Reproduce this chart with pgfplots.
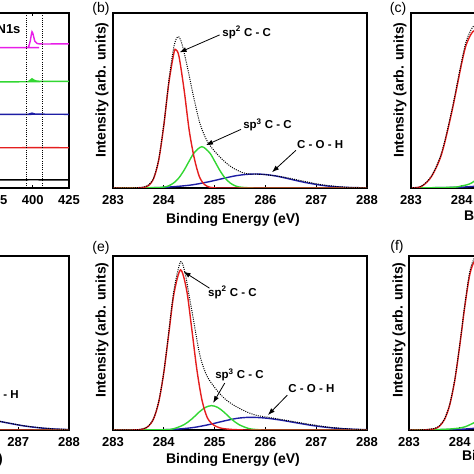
\documentclass[border=0pt]{standalone}
\usepackage{fontspec}
\setmainfont{Liberation Sans}
\usepackage{pgfplots}
\pgfplotsset{compat=1.18}
\usetikzlibrary{arrows.meta}
\definecolor{cred}{RGB}{228,30,30}
\definecolor{cgreen}{RGB}{50,215,50}
\definecolor{cblue}{RGB}{30,30,165}
\definecolor{cmag}{RGB}{232,30,232}
\newcommand\fs[1]{\fontsize{#1}{#1}\selectfont}
\tikzset{
  arr/.style={-{Latex[length=7pt,width=5pt]}, line width=0.8pt, black},
  ann/.style={font=\bfseries\fs{11.5}, anchor=west, inner sep=0pt},
}
\pgfplotsset{
  basepanel/.style={scale only axis, width=254pt, height=175pt, ymin=0, ymax=1,
    ytick=\empty, axis line style={line width=1.2pt},
    tick align=inside, xtick pos=bottom, major tick length=3pt,
    tick style={black, line width=0.8pt},
    /pgf/number format/assume math mode=true,
    /pgf/number format/1000 sep={},
    xticklabel style={font=\bfseries\fs{13}, yshift=-4pt}},
  xpspanel/.style={basepanel, xmin=283, xmax=288, xtick={283,...,288}},
  rl/.style={cred, line width=1.4pt, smooth},
  gl/.style={cgreen, line width=1.4pt, smooth},
  bl/.style={cblue, line width=1.4pt, smooth},
  dl/.style={black, line width=1pt, dash pattern=on 1pt off 1.2pt, smooth},
}
\begin{document}
\begin{tikzpicture}
\useasboundingbox (0pt,0pt) rectangle (474pt,474pt);
\clip (0pt,0pt) rectangle (474pt,474pt);
% ---------------- (a) ----------------
\begin{axis}[basepanel, at={(-185pt,286pt)}, anchor=south west,
  xmin=250, xmax=425, xtick={250,275,...,425}, xtick pos=both]
\addplot[black, line width=1.4pt] coordinates {(250,0.046) (380,0.046) (400,0.047) (425,0.046)};
\addplot[cred, line width=1.4pt] coordinates {(250,0.230) (390,0.230) (400,0.231) (425,0.230)};
\addplot[cblue, line width=1.4pt, smooth] coordinates {(250,0.421) (395,0.421) (398,0.424) (399.5,0.428) (401,0.424) (404,0.422) (425,0.421)};
\addplot[cgreen, line width=1.4pt, smooth] coordinates {(250,0.607) (396,0.607) (398,0.614) (399.5,0.624) (401,0.616) (403,0.610) (406,0.609) (425,0.609)};
\addplot[cmag, line width=1.4pt, smooth] coordinates {(250,0.802) (395,0.802) (397,0.805) (398.3,0.84) (399.5,0.893) (400.5,0.87) (401.5,0.838) (403,0.826) (407,0.823) (425,0.824)};
\addplot[black, line width=0.9pt, dash pattern=on 1pt off 1.2pt] coordinates {(396,0) (396,1)};
\addplot[black, line width=0.9pt, dash pattern=on 1pt off 1.2pt] coordinates {(407,0) (407,1)};
\end{axis}
% ---------------- (b) ----------------
\begin{axis}[xpspanel, at={(113pt,286pt)}, anchor=south west]
\addplot[bl] coordinates {(283.0,0) (283.5,0.0005) (284.0,0.0035) (284.5,0.0157) (284.8,0.0305) (285.0,0.043) (285.2,0.0566) (285.4,0.069) (285.6,0.077) (285.8,0.08) (286.0,0.077) (286.2,0.069) (286.4,0.0566) (286.6,0.043) (286.8,0.0305) (287.1,0.0157) (287.3,0.0091) (287.6,0.0035) (288.0,0.0008)};
\addplot[gl] coordinates {(283.0,0) (283.8,0.002) (284.0,0.005) (284.1,0.013) (284.2,0.030) (284.3,0.059) (284.4,0.102) (284.5,0.154) (284.6,0.202) (284.75,0.236) (284.9,0.202) (285.0,0.154) (285.1,0.102) (285.2,0.059) (285.3,0.030) (285.4,0.013) (285.5,0.005) (285.7,0.001) (286,0) (288,0)};
\addplot[rl] coordinates {(283.0,0) (283.4,0.0001) (283.5,0.0004) (283.6,0.0027) (283.7,0.014) (283.8,0.054) (283.9,0.159) (284.0,0.356) (284.1,0.602) (284.2,0.773) (284.24,0.79) (284.3,0.751) (284.4,0.56) (284.5,0.33) (284.6,0.17) (284.7,0.065) (284.8,0.02) (284.9,0.005) (285.0,0.001) (285.2,0) (288,0)};
\addplot[dl] coordinates {(283.0,0) (283.4,0.001) (283.5,0.003) (283.6,0.006) (283.7,0.018) (283.8,0.058) (283.9,0.165) (284.0,0.365) (284.1,0.615) (284.2,0.81) (284.28,0.865) (284.35,0.83) (284.45,0.71) (284.58,0.53) (284.71,0.37) (284.85,0.27) (285.0,0.21) (285.2,0.15) (285.37,0.113) (285.55,0.088) (285.7,0.079) (285.85,0.079) (286.0,0.076) (286.2,0.069) (286.4,0.060) (286.6,0.048) (286.8,0.036) (287.0,0.024) (287.2,0.015) (287.4,0.009) (287.6,0.004) (287.8,0.002) (288,0.001)};
\draw[arr] (axis cs:285.1,0.875) -- (axis cs:284.31,0.775);
\node[ann] at (axis cs:285.15,0.89) {sp\textsuperscript{2} C - C};
\draw[arr] (axis cs:285.52,0.335) -- (axis cs:284.83,0.245);
\node[ann] at (axis cs:285.56,0.36) {sp\textsuperscript{3} C - C};
\draw[arr] (axis cs:286.6,0.215) -- (axis cs:286.13,0.09);
\node[ann] at (axis cs:286.62,0.246) {C - O - H};
\end{axis}
% ---------------- (c) ----------------
\begin{axis}[xpspanel, at={(411pt,286pt)}, anchor=south west]
\addplot[bl] coordinates {(283,0) (284,0.005) (284.6,0.02) (285.2,0.05) (285.8,0.07) (286.4,0.05) (287,0.02) (287.6,0.005) (288,0.001)};
\addplot[gl] coordinates {(283,0) (283.8,0.004) (284.0,0.012) (284.2,0.03) (284.5,0.1) (284.8,0.15) (285.1,0.1) (285.4,0.03) (285.7,0.005) (286,0) (288,0)};
\addplot[rl] coordinates {(283.0,0.001) (283.2,0.008) (283.4,0.064) (283.6,0.192) (283.8,0.43) (284.0,0.716) (284.1,0.829) (284.25,0.9) (284.4,0.829) (284.5,0.716) (284.7,0.43) (284.9,0.192) (285.1,0.064) (285.3,0.016) (285.6,0.002) (288,0)};
\addplot[dl] coordinates {(283.0,0.002) (283.2,0.01) (283.4,0.068) (283.6,0.2) (283.8,0.44) (284.0,0.73) (284.1,0.85) (284.25,0.93) (284.4,0.88) (284.6,0.65) (284.8,0.42) (285.0,0.25) (285.4,0.12) (285.8,0.08) (286.2,0.065) (286.8,0.035) (287.4,0.01) (288,0.002)};
\end{axis}
% ---------------- (d) ----------------
\begin{axis}[xpspanel, at={(-185pt,44pt)}, anchor=south west, height=174pt]
\addplot[bl] coordinates {(283,0) (284,0.004) (284.6,0.02) (285.2,0.055) (285.6,0.07) (285.9,0.075) (286.2,0.070) (286.5,0.057) (286.8,0.040) (287.1,0.024) (287.4,0.013) (287.7,0.006) (288.0,0.0024)};
\addplot[gl] coordinates {(283,0) (284.4,0.03) (284.8,0.12) (285.2,0.03) (285.6,0) (288,0)};
\addplot[rl] coordinates {(283,0) (283.6,0.01) (283.9,0.2) (284.1,0.6) (284.3,0.9) (284.5,0.6) (284.7,0.2) (285,0.02) (285.3,0) (288,0)};
\addplot[dl] coordinates {(283,0) (283.6,0.012) (283.9,0.21) (284.1,0.62) (284.3,0.95) (284.5,0.68) (284.7,0.42) (285,0.24) (285.4,0.13) (285.8,0.085) (286.1,0.074) (286.4,0.062) (286.8,0.041) (287.1,0.025) (287.4,0.014) (287.7,0.0065) (288,0.003)};
\draw[arr] (axis cs:286.08,0.19) -- (axis cs:285.75,0.085);
\node[ann] at (axis cs:286.1,0.205) {C - O - H};
\end{axis}
% ---------------- (e) ----------------
\begin{axis}[xpspanel, at={(113pt,44pt)}, anchor=south west, height=174pt]
\addplot[bl] coordinates {(283.0,0) (283.5,0.0001) (284.0,0.0017) (284.3,0.0057) (284.6,0.0151) (284.9,0.0318) (285.2,0.0527) (285.45,0.0673) (285.7,0.073) (286.0,0.0686) (286.3,0.0569) (286.6,0.0417) (286.9,0.0269) (287.2,0.0154) (287.5,0.0078) (287.8,0.0035) (288.0,0.0019)};
\addplot[gl] coordinates {(283.0,0) (284.0,0.0014) (284.2,0.008) (284.4,0.031) (284.55,0.063) (284.7,0.104) (284.82,0.130) (284.94,0.14) (285.06,0.130) (285.18,0.104) (285.33,0.063) (285.48,0.031) (285.68,0.008) (285.88,0.0014) (286.1,0) (288,0)};
\addplot[rl] coordinates {(283.0,0) (283.4,0.0003) (283.5,0.0014) (283.6,0.006) (283.7,0.022) (283.8,0.065) (283.9,0.160) (284.0,0.329) (284.1,0.558) (284.2,0.784) (284.33,0.92) (284.45,0.803) (284.55,0.582) (284.65,0.349) (284.75,0.174) (284.85,0.075) (284.95,0.035) (285.05,0.018) (285.15,0.009) (285.3,0.004) (285.5,0.001) (285.8,0) (288,0)};
\addplot[dl] coordinates {(283.0,0) (283.4,0.001) (283.5,0.003) (283.6,0.008) (283.7,0.024) (283.8,0.068) (283.9,0.165) (284.0,0.335) (284.1,0.57) (284.2,0.805) (284.33,0.967) (284.42,0.90) (284.5,0.77) (284.58,0.64) (284.71,0.43) (284.85,0.31) (285.04,0.23) (285.2,0.18) (285.37,0.144) (285.55,0.115) (285.7,0.096) (285.85,0.082) (286.03,0.074) (286.3,0.061) (286.6,0.046) (286.9,0.031) (287.2,0.018) (287.5,0.009) (287.8,0.004) (288.0,0.002)};
\draw[arr] (axis cs:284.9,0.815) -- (axis cs:284.39,0.91);
\node[ann] at (axis cs:284.87,0.79) {sp\textsuperscript{2} C - C};
\draw[arr] (axis cs:285.2,0.27) -- (axis cs:284.97,0.155);
\node[ann] at (axis cs:285.01,0.316) {sp\textsuperscript{3} C - C};
\draw[arr] (axis cs:286.43,0.2) -- (axis cs:286.05,0.086);
\node[ann] at (axis cs:286.45,0.241) {C - O - H};
\end{axis}
% ---------------- (f) ----------------
\begin{axis}[xpspanel, at={(409pt,44pt)}, anchor=south west, height=174pt]
\addplot[bl] coordinates {(283,0) (284,0.004) (284.6,0.02) (285.2,0.05) (285.8,0.07) (286.4,0.055) (287,0.025) (287.6,0.006) (288,0.002)};
\addplot[gl] coordinates {(283,0) (283.6,0.003) (283.9,0.008) (284.1,0.018) (284.4,0.06) (284.8,0.13) (285.0,0.14) (285.2,0.13) (285.6,0.06) (286,0.01) (286.3,0) (288,0)};
\addplot[rl] coordinates {(283.0,0) (283.3,0.0004) (283.5,0.007) (283.6,0.022) (283.7,0.061) (283.8,0.142) (283.9,0.283) (284.0,0.487) (284.1,0.713) (284.2,0.898) (284.3,0.97) (284.4,0.898) (284.5,0.713) (284.6,0.487) (284.7,0.283) (284.8,0.142) (284.9,0.061) (285.0,0.022) (285.2,0.002) (285.5,0) (288,0)};
\addplot[dl] coordinates {(283.0,0.001) (283.3,0.002) (283.5,0.009) (283.6,0.025) (283.7,0.065) (283.8,0.147) (283.9,0.29) (284.0,0.495) (284.1,0.725) (284.2,0.915) (284.3,0.99) (284.4,0.93) (284.5,0.78) (284.6,0.6) (284.8,0.38) (285.0,0.24) (285.3,0.15) (285.7,0.1) (286.0,0.08) (286.5,0.055) (287,0.03) (287.5,0.01) (288,0.003)};
\end{axis}
% ---------------- labels ----------------
\node[font=\bfseries\fs{13}, anchor=east] at (24pt,445pt) {N1s};
\node[font=\fs{14}] at (101pt,465pt) {(b)};
\node[font=\fs{14}] at (398pt,465pt) {(c)};
\node[font=\fs{14}] at (101pt,226pt) {(e)};
\node[font=\fs{14}] at (397pt,227pt) {(f)};
\node[font=\bfseries\fs{14}, rotate=90] at (102pt,384pt) {Intensity (arb. units)};
\node[font=\bfseries\fs{14}, rotate=90] at (400pt,384pt) {Intensity (arb. units)};
\node[font=\bfseries\fs{14}, rotate=90] at (102pt,144pt) {Intensity (arb. units)};
\node[font=\bfseries\fs{14}, rotate=90] at (399pt,144pt) {Intensity (arb. units)};
\node[font=\bfseries\fs{14}] at (233pt,254pt) {Binding Energy (eV)};
\node[font=\bfseries\fs{14}] at (531pt,257pt) {Binding Energy (eV)};
\node[font=\bfseries\fs{14}] at (233pt,14pt) {Binding Energy (eV)};
\node[font=\bfseries\fs{14}] at (-64pt,14pt) {Binding Energy (eV)};
\node[font=\bfseries\fs{14}] at (529pt,17pt) {Binding Energy (eV)};
\end{tikzpicture}
\end{document}
